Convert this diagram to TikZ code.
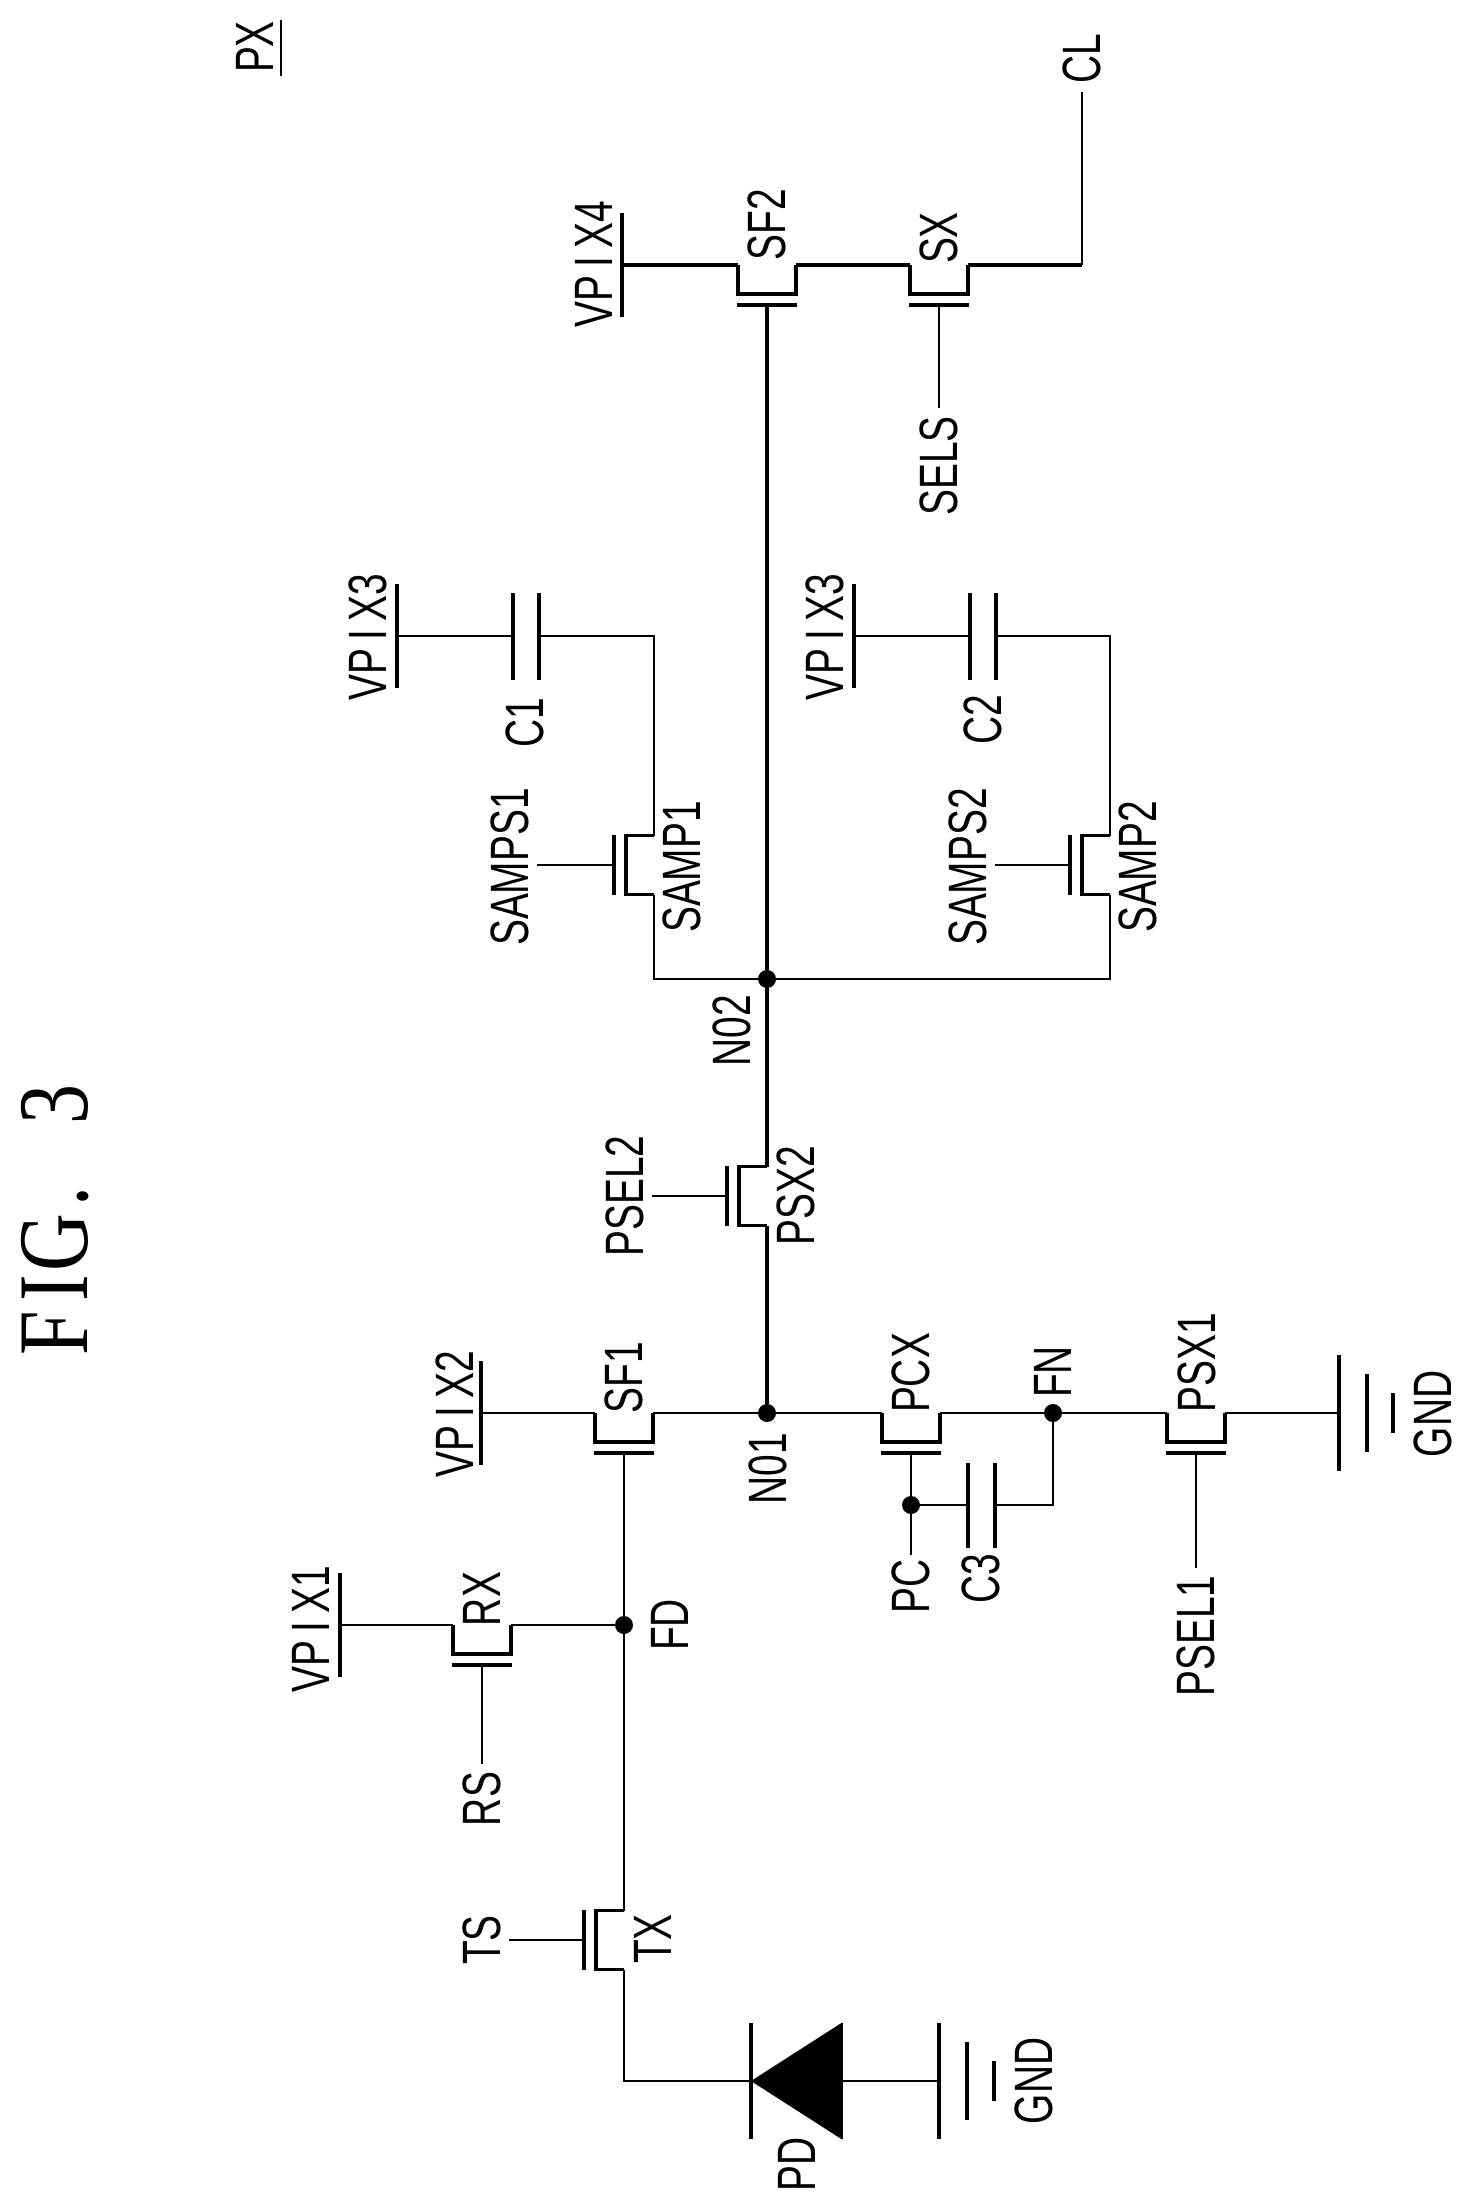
\documentclass[tikz,border=0pt]{standalone}
\usepackage{fontspec}
\newfontfamily\lblfont[FakeStretch=0.72]{Liberation Sans}
\newfontfamily\figfont[FakeStretch=0.8]{Liberation Serif}
\newcommand{\vpi}{VP\kern4pt I\kern4pt X}
\tikzset{
  wire/.style={line width=1.3pt},
  mainwire/.style={line width=2pt},
  fetwall/.style={line width=1.7pt},
  fetbar/.style={line width=1.6pt},
  plate/.style={fill=black,inner sep=0pt,minimum width=1.7pt,minimum height=#1},
  dot/.style={circle,fill=black,inner sep=0pt,minimum size=9pt},
  lbl/.style={rotate=90,inner sep=0pt,outer sep=4pt,font=\lblfont\fontsize{27}{27}\selectfont},
  fetbelow/.pic={
    \draw[fetwall] (-29,0) -- (-29,29) -- (29,29) -- (29,0);
    \draw[fetbar] (-30,40) -- (30,40);
    \coordinate (-l) at (-29,0);
    \coordinate (-r) at (29,0);
    \coordinate (-g) at (0,40);
  },
  fetleft/.pic={
    \draw[fetwall] (0,-29.5) -- (-28,-29.5) -- (-28,29.5) -- (0,29.5);
    \draw[fetbar] (-40,-30) -- (-40,30);
    \coordinate (-t) at (0,-29.5);
    \coordinate (-b) at (0,29.5);
    \coordinate (-g) at (-40,0);
  },
}
\begin{document}
\begin{tikzpicture}[x=0.5pt,y=-0.5pt]
\useasboundingbox (0,0) rectangle (1472,2208);
% title and cell name
\node[rotate=90,inner sep=0pt,font=\figfont\fontsize{50}{50}\selectfont] (fig) at (55,1220) {F\kern5pt I\kern1.5pt G\kern4pt. \kern21pt 3};
\node[lbl] (px) at (255,47) {PX};
\node[plate=28pt,minimum width=1.3pt] (pxbar) at (281,48) {};
% transistors
\pic (rx) at (482,1625) {fetbelow};
\pic (sf1) at (624,1413) {fetbelow};
\pic (pcx) at (911,1413) {fetbelow};
\pic (psx1) at (1196,1413) {fetbelow};
\pic (sf2) at (767,265) {fetbelow};
\pic (sx) at (939,265) {fetbelow};
\pic (tx) at (624,1940) {fetleft};
\pic (psx2) at (767,1196) {fetleft};
\pic (samp1) at (654,865) {fetleft};
\pic (samp2) at (1110,865) {fetleft};
% junction dots
\node[dot] (fd) at (624,1625) {};
\node[dot] (n01) at (767,1413) {};
\node[dot] (n02) at (767,979) {};
\node[dot] (fn) at (1053,1413) {};
\node[dot] (pcd) at (911,1505) {};
% supply rails
\node[plate=52pt] (vp1) at (340,1625) {};
\node[plate=52pt] (vp2) at (481,1413) {};
\node[plate=52pt] (vp3a) at (397,636) {};
\node[plate=52pt] (vp3b) at (854,636) {};
\node[plate=52pt] (vp4) at (622,265) {};
% capacitors
\node[plate=43.5pt] (c1a) at (513,636) {};
\node[plate=43.5pt,minimum width=2pt] (c1b) at (539,636) {};
\node[plate=43.5pt] (c2a) at (970,636) {};
\node[plate=43.5pt,minimum width=2pt] (c2b) at (996,636) {};
\node[plate=42.5pt] (c3a) at (968,1505) {};
\node[plate=42.5pt] (c3b) at (995,1505) {};
% photodiode and grounds
\node[plate=58pt] (pdbar) at (751,2081) {};
\node[plate=58pt,minimum width=1pt] (pdbase) at (842,2081) {};
\fill (pdbar.center) -- (pdbase.north) -- (pdbase.south) -- cycle;
\node[plate=58pt] (g1a) at (939,2081) {};
\node[plate=39pt] (g1b) at (967,2081) {};
\node[plate=20pt] (g1c) at (994,2081) {};
\node[plate=58pt] (g2a) at (1339,1413) {};
\node[plate=39pt] (g2b) at (1367,1413) {};
\node[plate=20pt] (g2c) at (1393,1413) {};
% labels
\node[lbl] (lvp1) at (311,1629) {\vpi1};
\node[lbl] (lvp2) at (455,1414) {\vpi2};
\node[lbl] (lvp3a) at (368,637) {\vpi3};
\node[lbl] (lvp3b) at (825,637) {\vpi3};
\node[lbl] (lvp4) at (594,264) {\vpi4};
\node[lbl] (lrx) at (482,1599) {RX};
\node[lbl] (lfd) at (670,1625) {FD};
\node[lbl] (rs) at (482,1799) {RS};
\node[lbl] (ts) at (482,1940) {TS};
\node[lbl] (ltx) at (653,1939) {TX};
\node[lbl] (lpd) at (797,2164) {PD};
\node[lbl] (lg1) at (1034,2081) {GND};
\node[lbl] (ln01) at (768,1469) {N01};
\node[lbl,outer sep=2pt] (pc) at (911,1586) {PC};
\node[lbl] (lc3) at (981,1579) {C3};
\node[lbl] (psel1) at (1196,1636) {PSEL1};
\node[lbl] (lsf1) at (624,1378) {SF1};
\node[lbl] (lpcx) at (911,1373) {PCX};
\node[lbl] (lfn) at (1053,1372) {FN};
\node[lbl] (lpsx1) at (1197,1363) {PSX1};
\node[lbl] (lg2) at (1433,1414) {GND};
\node[lbl] (lpsx2) at (796,1196) {PSX2};
\node[lbl] (psel2) at (625,1196) {PSEL2};
\node[lbl] (ln02) at (732,1031) {N02};
\node[lbl] (lsamp1) at (682,867) {SAMP1};
\node[lbl] (samps1) at (510,867) {SAMPS1};
\node[lbl] (lsamp2) at (1138,867) {SAMP2};
\node[lbl] (samps2) at (968,867) {SAMPS2};
\node[lbl] (lc1) at (525,723) {C1};
\node[lbl] (lc2) at (983,720) {C2};
\node[lbl] (lsf2) at (767,225) {SF2};
\node[lbl] (lsx) at (939,238) {SX};
\node[lbl] (sels) at (939,466) {SELS};
\node[lbl] (cl) at (1082,59) {CL};
% wires
\draw[wire] (vp1) -- (rx-l);
\draw[wire] (rx-r) -- (fd);
\draw[wire] (rx-g) -- (rs);
\draw[wire] (sf1-g) -- (fd) -- (tx-t);
\draw[wire] (tx-b) |- (pdbar);
\draw[wire] (tx-g) -- (ts);
\draw[wire] (pdbase) -- (g1a);
\draw[wire] (vp2) -- (sf1-l);
\draw[wire] (sf1-r) -- (n01) -- (pcx-l);
\draw[wire] (pcx-r) -- (fn) -- (psx1-l);
\draw[wire] (psx1-r) -- (g2a);
\draw[wire] (psx1-g) -- (psel1);
\draw[wire] (pcx-g) -- (pcd) -- (pc);
\draw[wire] (pcd) -- (c3a);
\draw[wire] (c3b) -| (fn);
\draw[mainwire] (n01) -- (psx2-b);
\draw[mainwire] (psx2-t) -- (n02) -- (sf2-g);
\draw[wire] (psx2-g) -- (psel2);
\draw[wire] (samp1-b) |- (n02);
\draw[wire] (samp2-b) |- (n02);
\draw[wire] (samp1-g) -- (samp1-g -| samps1.south);
\draw[wire] (samp2-g) -- (samp2-g -| samps2.south);
\draw[wire] (vp3a) -- (c1a);
\draw[wire] (c1b) -| (samp1-t);
\draw[wire] (vp3b) -- (c2a);
\draw[wire] (c2b) -| (samp2-t);
\draw[mainwire] (vp4) -- (sf2-l);
\draw[mainwire] (sf2-r) -- (sx-l);
\draw[mainwire] (sx-r) -- (sx-r -| cl);
\draw[wire] (sx-r -| cl) -- (cl);
\draw[wire] (sx-g) -- (sels);
\end{tikzpicture}
\end{document}
